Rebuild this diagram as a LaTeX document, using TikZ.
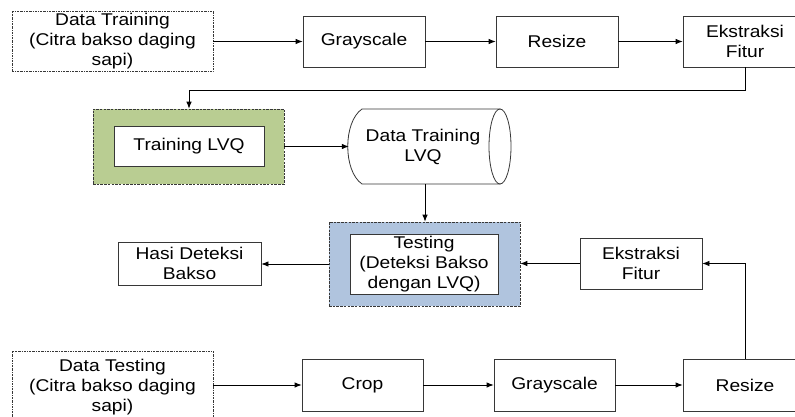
\documentclass[tikz,border=0pt]{standalone}
\usepackage{fontspec}
\setmainfont{Liberation Sans}[FakeStretch=1.13]
\usetikzlibrary{arrows.meta}
\definecolor{boxgreen}{RGB}{185,205,146}
\definecolor{boxblue}{RGB}{176,196,222}
\definecolor{edgec}{RGB}{55,55,55}
\begin{document}
\begin{tikzpicture}[x=1pt,y=-1pt,
  every node/.style={font=\fontsize{17}{20}\selectfont, align=center, inner sep=0pt, text=black},
  procbox/.style={draw=edgec, line width=0.8pt, fill=white},
  srcbox/.style={draw=edgec, line width=0.6pt, dash pattern=on 2pt off 1pt on 0.6pt off 1pt, fill=white},
  groupbox/.style={draw=edgec, line width=0.7pt, dash pattern=on 2.5pt off 1.2pt},
  innerbox/.style={draw=edgec, line width=1pt, fill=white},
  conn/.style={draw=black, line width=0.8pt, -{Latex[length=7pt,width=5.5pt]}},
  plainline/.style={draw=edgec, line width=0.8pt}]
\useasboundingbox (0,0) rectangle (795,417);
\fill[white] (0,0) rectangle (795,417);
\clip (0,0) rectangle (795,417);

% top row
\node[srcbox, minimum width=201pt, minimum height=60pt] (dtrain) at (112.5,41) {Data Training\\(Citra bakso daging\\sapi)};
\node[procbox, minimum width=122pt, minimum height=51pt] (gray1) at (364,41.5) {Grayscale};
\node[procbox, minimum width=122pt, minimum height=51pt] (res1) at (557,41.5) {Resize};
\node[procbox, minimum width=124pt, minimum height=51pt] (ek1) at (745,41.5) {Ekstraksi\\Fitur};

% training LVQ group
\node[groupbox, fill=boxgreen, minimum width=191pt, minimum height=75pt] (green) at (188.5,146.5) {};
\node[innerbox, minimum width=150pt, minimum height=39pt] (tlvq) at (189,146.5) {Training LVQ};

% cylinder
\node[minimum width=152pt, minimum height=75pt] (cyl) at (425,146.5) {};
\draw[plainline, fill=white] (362,109) -- (500,109) -- (500,184) -- (362,184) .. controls (343,171) and (343,122) .. (362,109) -- cycle;
\draw[plainline, fill=white] (500,146.5) ellipse[x radius=11, y radius=37.5];
\node (cyltxt) at (423,147) {Data Training\\LVQ};

% testing group
\node[groupbox, fill=boxblue, minimum width=191pt, minimum height=84pt] (blue) at (424.5,264) {};
\node[innerbox, minimum width=148pt, minimum height=60pt] (test) at (424,264) {Testing\\(Deteksi Bakso\\dengan LVQ)};

\node[procbox, minimum width=143pt, minimum height=43pt] (hasil) at (189.5,263.5) {Hasi Deteksi\\Bakso};
\node[procbox, minimum width=122pt, minimum height=51pt] (ek2) at (641,263.5) {Ekstraksi\\Fitur};

% bottom row
\node[srcbox, minimum width=201pt, minimum height=72pt] (dtest) at (112.5,387) {Data Testing\\(Citra bakso daging\\sapi)};
\node[procbox, minimum width=121pt, minimum height=52pt] (crop) at (362.5,385) {Crop};
\node[procbox, minimum width=121pt, minimum height=52pt] (gray2) at (554.5,385) {Grayscale};
\node[procbox, minimum width=124pt, minimum height=52pt] (res2) at (745,385) {Resize};

% connectors
\draw[conn] (dtrain.east |- gray1.west) -- (gray1.west);
\draw[conn] (gray1) -- (res1);
\draw[conn] (res1) -- (ek1);
\draw[conn] (ek1.south) -- (745,90) -- (189,90) -- (green.north -| tlvq.north);
\draw[conn] (green.east) -- (cyl.west |- green.east);
\draw[conn] (cyl.south) -- (blue.north -| cyl.south);
\draw[conn] (blue.west) -- (hasil.east |- blue.west);
\draw[conn] (ek2.west) -- (blue.east |- ek2.west);
\draw[conn] (res2.north) -- (res2.north |- ek2.east) -- (ek2.east);
\draw[conn] (dtest.east |- crop.west) -- (crop.west);
\draw[conn] (crop) -- (gray2);
\draw[conn] (gray2) -- (res2);
\end{tikzpicture}
\end{document}
